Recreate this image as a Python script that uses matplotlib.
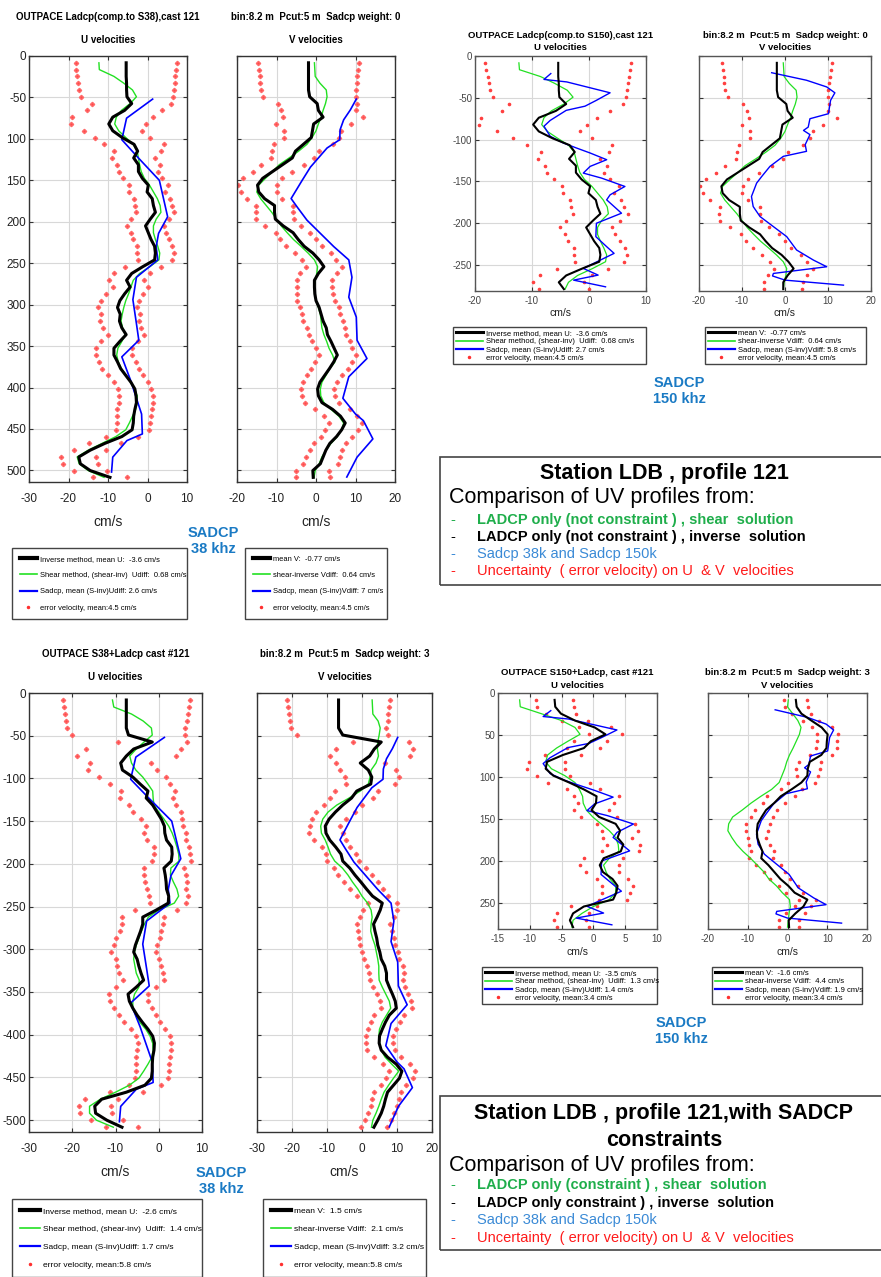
import numpy as np
import matplotlib
matplotlib.use('Agg')
import matplotlib.pyplot as plt
from matplotlib.patches import Rectangle
from matplotlib.lines import Line2D

# ---- data ----
BIN = 8.2
z38 = BIN * np.arange(1, 63)      # bin centres, 38 khz comparison (m)
z150 = z38[:34]                  # the 150 khz comparison shows 0-280 m

# LADCP only, not constrained (same solution in the two top pairs)
u_inv_top = [-5.4, -5.4, -5.4, -5.3, -5.3, -5.2, -4.0, -5.8, -8.8, -9.8,
             -8.8, -6.4, -3.4, -2.5, -3.5, -2.3, -2.3, -1.3, 0.2, -0.1,
             1.2, 1.5, 2.0, 0.7, -0.5, 0.2, 0.9, 1.8, 2.0, 1.8,
             -1.2, -4.0, -5.3, -4.4, -5.8, -7.0, -7.6, -6.9, -7.1, -6.5,
             -5.4, -7.0, -8.5, -8.5, -7.6, -6.8, -5.5, -4.2, -3.2, -2.9,
             -2.8, -3.2, -3.5, -3.6, -3.9, -6.5, -10.8, -14.5, -17.4, -17.0,
             -14.5, -9.5]
u_shear_top = [-12.3, -12.2, -8.5, -6.0, -3.8, -2.8, -4.4, -6.6, -7.9, -8.3,
               -7.3, -5.5, -3.6, -2.6, -2.3, -2.0, -1.6, -0.8, 0.5, 1.5,
               2.5, 3.2, 3.4, 2.2, 1.5, 1.5, 2.0, 2.6, 3.1, 2.9,
               0.6, -2.0, -3.6, -4.2, -4.8, -5.5, -6.0, -6.4, -6.7, -6.3,
               -5.6, -6.5, -7.5, -7.8, -7.4, -6.6, -5.4, -4.3, -3.3, -2.6,
               -2.6, -3.0, -3.8, -4.6, -5.5, -8.0, -11.5, -15.0, -17.8, -17.3,
               -15.0, -11.0]
v_inv_top = [-1.9, -1.9, -1.9, -1.9, -1.9, -1.6, 0.3, 0.6, 1.8, -0.6,
             -0.9, -1.2, -3.2, -5.2, -6.0, -8.5, -11.0, -13.5, -14.8, -14.5,
             -13.0, -10.5, -10.5, -10.3, -8.3, -5.8, -4.5, -3.0, -0.8, 0.8,
             2.0, 0.6, -0.4, -0.4, -0.3, 0.0, 0.8, 1.3, 1.8, 2.6,
             2.9, 3.8, 4.6, 5.4, 4.5, 3.4, 2.2, 1.0, 0.4, 0.6,
             1.5, 4.2, 6.2, 7.4, 6.5, 5.2, 3.5, 2.5, 1.8, 1.1,
             -0.8, -0.7]
v_shear_top = [-0.4, -0.3, -0.2, 1.0, 2.6, 2.8, 2.4, 1.8, 1.3, 0.6,
               0.0, -1.0, -2.3, -4.4, -6.8, -9.3, -11.0, -12.8, -14.5, -15.0,
               -14.0, -12.6, -11.2, -10.0, -8.8, -7.3, -5.7, -3.8, -2.0, -0.4,
               0.4, 0.2, -0.2, -0.4, -0.3, 0.0, 0.6, 1.1, 1.3, 1.5,
               2.0, 2.7, 3.3, 4.2, 4.8, 3.5, 2.5, 1.5, 1.1, 1.2,
               2.0, 3.8, 5.8, 7.0, 6.5, 5.4, 3.8, 2.5, 1.5, 0.8,
               -0.2, -0.5]
err_top = [12.8, 12.6, 12.4, 12.2, 12.0, 11.7, 10.0, 9.5, 10.2, 9.5,
           7.3, 7.0, 7.5, 6.0, 5.5, 5.5, 5.0, 4.9, 5.0, 4.5,
           4.5, 4.6, 4.8, 4.8, 4.6, 4.4, 4.6, 4.5, 4.6, 4.3,
           4.5, 4.6, 4.5, 4.4, 4.6, 4.8, 4.9, 4.9, 5.0, 4.8,
           4.6, 4.7, 4.6, 4.6, 4.7, 4.6, 4.4, 4.4, 4.2, 4.2,
           4.3, 4.4, 4.3, 4.2, 4.2, 4.0, 4.0, 4.1, 4.4, 4.5,
           4.2, 4.3]

# LADCP constrained by SADCP 38 khz
u_inv_b38 = [-7.5, -7.5, -7.5, -7.5, -7.5, -7.0, -1.5, -5.8, -7.5, -8.8,
             -8.4, -6.0, -4.3, -2.5, -2.9, -1.4, -0.4, 0.6, 1.3, 1.4,
             1.8, 3.0, 3.1, 2.9, 1.2, 1.5, 1.7, 1.8, 2.3, 2.2,
             -0.6, -3.7, -3.7, -4.2, -4.8, -5.4, -5.8, -5.0, -4.6, -4.1,
             -3.5, -5.2, -7.1, -6.8, -6.0, -5.0, -3.8, -2.5, -1.4, -1.0,
             -1.1, -1.4, -1.5, -1.5, -1.7, -3.2, -7.5, -13.2, -14.8, -14.6,
             -12.0, -8.5]
u_shear_b38 = [-10.7, -10.4, -6.3, -3.6, -1.7, -1.5, -3.4, -5.2, -6.7, -6.3,
               -5.3, -3.7, -2.5, -1.4, -1.3, -1.1, 0.0, 1.2, 2.3, 3.1,
               3.7, 4.2, 4.6, 4.7, 2.8, 2.7, 3.4, 4.2, 4.6, 3.6,
               0.0, -2.4, -3.3, -4.0, -4.6, -5.2, -5.6, -5.8, -5.5, -5.2,
               -4.5, -4.6, -5.6, -6.0, -6.0, -5.3, -4.4, -3.0, -2.0, -1.4,
               -1.3, -1.6, -2.5, -3.5, -4.6, -6.8, -10.0, -13.5, -16.0, -16.0,
               -14.4, -10.5]
v_inv_b38 = [-6.7, -6.7, -6.7, -6.7, -6.7, -5.5, 5.5, 3.5, 2.2, -0.5,
             1.8, 2.8, 2.5, -1.5, -3.0, -5.5, -7.6, -9.4, -10.5, -10.3,
             -9.2, -7.5, -6.0, -5.5, -3.5, -2.0, -0.3, 1.3, 3.0, 5.8,
             5.2, 4.3, 3.3, 3.7, 4.2, 4.5, 5.1, 5.5, 6.5, 7.0,
             7.0, 7.8, 8.7, 9.5, 9.8, 7.8, 6.7, 5.8, 5.0, 4.9,
             5.5, 7.3, 9.8, 11.4, 10.7, 9.0, 7.3, 6.7, 6.2, 5.5,
             4.5, 3.4]
v_shear_b38 = [2.9, 3.0, 3.1, 4.6, 5.2, 4.9, 4.5, 4.4, 4.7, 4.0,
               2.6, 2.3, 1.8, -0.5, -3.7, -7.2, -9.7, -11.2, -11.8, -11.6,
               -10.5, -9.7, -9.0, -7.8, -5.6, -4.0, -2.7, -1.2, 0.0, 1.6,
               2.6, 2.9, 2.6, 2.5, 3.0, 3.7, 4.1, 4.5, 4.8, 4.8,
               4.9, 5.8, 6.8, 7.8, 8.2, 7.0, 5.8, 5.0, 4.8, 5.0,
               5.5, 6.6, 8.5, 10.5, 9.0, 7.6, 6.3, 5.5, 4.8, 4.0,
               3.1, 2.7]
err_b38 = [14.7, 14.5, 14.2, 14.0, 13.6, 13.0, 8.0, 11.0, 11.4, 7.0,
           8.0, 7.7, 7.0, 6.2, 6.1, 5.5, 5.5, 4.8, 4.3, 4.8,
           4.6, 4.0, 4.2, 4.5, 4.6, 4.9, 4.8, 4.6, 4.5, 4.2,
           4.8, 4.8, 4.7, 4.8, 5.0, 5.0, 5.2, 5.0, 5.1, 5.0,
           4.8, 4.6, 4.5, 4.4, 4.4, 4.3, 4.2, 4.0, 3.9, 3.9,
           4.0, 3.9, 3.8, 3.8, 3.8, 3.7, 3.8, 3.8, 3.7, 3.7,
           3.7, 3.6]

# LADCP constrained by SADCP 150 khz
u_inv_b150 = [-6.1, -6.0, -5.1, -2.9, 0.2, 1.9, -0.4, -1.5, -4.8, -7.3,
              -7.5, -6.3, -3.8, -1.5, 0.5, 0.4, -0.3, 0.9, 3.5, 4.2,
              3.8, 4.7, 4.3, 1.6, 1.0, 1.5, 3.0, 3.8, 3.6, 3.1,
              -1.5, -3.2, -3.7, -3.2]
u_shear_b150 = [-11.6, -11.5, -8.2, -5.0, -2.9, -2.1, -4.0, -5.8, -7.2, -7.5,
                -6.6, -4.5, -2.9, -2.2, -1.7, -1.6, -1.1, -0.1, 1.2, 2.5,
                3.5, 3.9, 4.0, 2.5, 1.6, 2.0, 2.6, 3.5, 3.5, 2.5,
                0.0, -1.8, -3.2, -3.4]
v_inv_b150 = [2.1, 2.3, 3.5, 6.0, 8.6, 10.1, 9.9, 9.8, 8.5, 5.6,
              5.1, 5.0, 3.5, 1.0, -1.7, -3.4, -5.4, -6.5, -7.5, -7.7,
              -7.6, -7.0, -6.3, -6.6, -4.8, -3.3, -1.8, 0.2, 1.8, 5.0,
              4.0, 2.0, 0.3, 0.4]
v_shear_b150 = [0.2, 0.0, 1.3, 2.6, 3.4, 3.0, 2.2, 1.4, 0.5, -0.2,
                -0.7, -1.4, -2.1, -4.0, -6.7, -9.2, -11.4, -13.8, -14.8, -15.0,
                -14.0, -12.8, -11.2, -9.3, -7.6, -5.9, -4.7, -2.8, -1.3, 0.5,
                0.7, 0.4, 0.2, 0.0]
err_b150 = [2.9, 2.9, 2.3, 2.0, 2.5, 2.6, 2.6, 2.6, 2.8, 2.8,
            3.0, 2.6, 3.3, 2.6, 3.5, 2.8, 2.8, 2.8, 3.0, 2.8,
            2.3, 2.6, 2.9, 3.0, 3.1, 2.6, 2.5, 2.4, 2.2, 2.2,
            2.0, 2.5, 2.5, 2.5]

# ship ADCP profiles
z_s38u = [52, 75, 101, 122, 150, 194, 214, 230, 246, 267, 294, 323, 343, 363,
          391, 432, 456, 464, 484, 502]
u_s38 = [1.3, -5.3, -6.5, -2.5, 3.0, 5.1, 2.8, 2.2, 2.6, -2.8, -3.7, -2.8, -2.2,
         -6.5, -4.3, -1.5, -1.3, -5.2, -8.8, -9.1]
z_s38v = [52, 65, 77, 89, 101, 111, 134, 150, 172, 182, 198, 214, 230, 246, 267,
          291, 315, 343, 365, 387, 413, 432, 440, 462, 484, 508]
v_s38 = [10.2, 8.7, 7.0, 6.1, 6.0, 2.8, -1.4, -3.5, -6.3, -4.8, -2.3, 1.1, 4.5,
         8.3, 9.1, 8.3, 10.2, 10.4, 12.9, 8.3, 6.8, 10.0, 12.0, 14.4, 10.4, 7.8]
z_s150u = [21, 28, 31, 44, 53, 60, 65, 77, 84, 96, 104, 110, 116, 124, 132, 140,
           146, 156, 166, 172, 188, 200, 216, 228, 236, 248, 254, 262, 268, 276]
u_s150 = [-6.7, -7.9, -3.9, 3.7, 1.3, -0.7, -4.0, -6.8, -7.9, -6.8, -4.5, -2.2,
          0.2, 3.1, 0.2, -1.0, 2.2, 6.3, 3.7, 3.1, 5.7, 1.3, 1.2, 3.1, 4.4, 0.8,
          -1.0, 1.6, -2.7, 2.9]
z_s150v = [20, 29, 37, 44, 53, 69, 75, 85, 89, 94, 106, 114, 120, 132, 144, 152,
           168, 180, 192, 204, 216, 232, 244, 252, 260, 263, 268, 274]
v_s150 = [-3.1, 5.0, 9.7, 11.6, 10.6, 10.1, 5.8, 5.4, 4.3, 5.8, 4.7, 5.0, -0.4,
          -3.5, -5.4, -6.6, -7.8, -7.4, -5.8, -2.7, 0.4, 2.7, 6.6, 9.7, -2.7,
          -2.9, 0.0, 13.6]

# ---- layout ----
W, H = 881, 1277
ARIAL = ['Liberation Sans', 'DejaVu Sans']
GREEN = '#22e022'
SADCP_BLUE = '#1a7ac4'

fig = plt.figure(figsize=(W / 100, H / 100), dpi=100)


def frac(x0, y0, x1, y1):
    return [x0 / W, 1 - y1 / H, (x1 - x0) / W, (y1 - y0) / H]


def ftext(x, y, s, **kw):
    fig.text(x / W, 1 - y / H, s, **kw)


def panel(rect, z, inv, shear, err, zs, sadcp, xlim, xticks, depth, ylabels,
          titles, title_y, xlab_y, legend_box, labels, big, leg_fs=5.4):
    ax = fig.add_axes(frac(*rect))
    inv = np.asarray(inv)
    err = np.asarray(err)
    lw_k, lw_g, lw_b = (2.2, 1.0, 1.2) if big else (1.5, 0.9, 1.0)
    if big:
        mk = dict(marker='D', ms=2.2, color='#ff4a4a', mec='#ff6a6a')
    else:
        mk = dict(marker='.', ms=3.2, color='#ff4040')
    ax.plot(np.concatenate([inv - err, inv + err]), -np.concatenate([z, z]),
            ls='none', zorder=2, **mk)
    ax.plot(shear, -z, color=GREEN, lw=lw_g, zorder=3)
    ax.plot(sadcp, -np.asarray(zs), color='#0000ff', lw=lw_b, zorder=3)
    ax.plot(inv, -z, color='k', lw=lw_k, zorder=4)

    ax.set_xlim(*xlim)
    ax.set_ylim(-depth, 0)
    ax.set_xticks(xticks)
    ax.set_xticklabels([str(t) for t in xticks])
    yt = -np.arange(0, depth, 50)
    ax.set_yticks(yt)
    if ylabels is None:
        ax.set_yticklabels([])
    else:
        ax.set_yticklabels(ylabels)
    ax.grid(True, color='#d8d8d8', lw=0.8)
    ax.set_axisbelow(True)
    for s in ax.spines.values():
        s.set_color('#333333' if big else '#555555')
        s.set_linewidth(1.0)
    ax.tick_params(direction='in', top=True, right=True, length=3,
                   width=0.8, color='#333333',
                   labelcolor='#222222' if big else '#444444',
                   labelsize=8.5 if big else 7)
    ax.tick_params(axis='x', pad=8 if big else 3.5)
    ax.tick_params(axis='y', pad=2)
    for t in ax.get_xticklabels() + ax.get_yticklabels():
        t.set_family(ARIAL)

    cx = (rect[0] + rect[2]) / 2
    tsz = 7.0 if big else 6.8
    ftext(cx, title_y[0], titles[0], ha='center', va='center',
          family=ARIAL, weight='bold', fontsize=tsz)
    ftext(cx, title_y[1], titles[1], ha='center', va='center',
          family=ARIAL, weight='bold', fontsize=tsz)
    ftext(cx, xlab_y, 'cm/s', ha='center', va='center', family=ARIAL,
          fontsize=10 if big else 7.5, color='#222222')

    handles = [Line2D([], [], color='k', lw=3.0 if big else 2.2),
               Line2D([], [], color=GREEN, lw=1.2),
               Line2D([], [], color='#0000ff', lw=1.6),
               Line2D([], [], ls='none', marker='.', ms=3, color='#ff3030')]
    x0, y0, x1, y1 = legend_box
    fs = leg_fs if big else 5.5
    leg = ax.legend(handles, labels, loc='upper left', mode='expand',
                    bbox_to_anchor=(x0 / W, 1 - y1 / H, (x1 - x0) / W, (y1 - y0) / H),
                    bbox_transform=fig.transFigure, borderaxespad=0,
                    fancybox=False, edgecolor='#444444', framealpha=1,
                    prop=dict(family=ARIAL, size=fs),
                    labelspacing=1.2 if big else 0.12,
                    borderpad=1.0 if big else 0.35,
                    handlelength=2.3 if big else 3.6,
                    handletextpad=0.4 if big else 0.35)
    leg.get_frame().set_linewidth(1.0)
    return ax


lab_u = 'Inverse method, mean U:  {} cm/s'
lab_us = 'Shear method, (shear-inv)  Udiff:  {} cm/s'
lab_ub = 'Sadcp, mean (S-inv)Udiff: {} cm/s'
lab_v = 'mean V:  {} cm/s'
lab_vs = 'shear-inverse Vdiff:  {} cm/s'
lab_vb = 'Sadcp, mean (S-inv)Vdiff: {} cm/s'
lab_e = 'error velocity, mean:{} cm/s'

ylab38_top = ['0', '-50'] + [str(d) for d in range(100, 501, 50)]
ylab38_bot = ['0'] + ['-%d' % d for d in range(50, 501, 50)]
ylab150_top = ['0'] + ['-%d' % d for d in range(50, 251, 50)]
ylab150_bot = [str(d) for d in range(0, 251, 50)]

# top left: comparison to S38
panel((29, 56, 187, 482), z38, u_inv_top, u_shear_top, err_top, z_s38u, u_s38,
      (-30, 10), [-30, -20, -10, 0, 10], 514, ylab38_top,
      ('OUTPACE Ladcp(comp.to S38),cast 121', 'U velocities'), (17, 40), 522,
      (12, 548, 187, 626),
      [lab_u.format(-3.6), lab_us.format(0.68), lab_ub.format(2.6), lab_e.format(4.5)], True)
panel((237, 56, 395, 482), z38, v_inv_top, v_shear_top, err_top, z_s38v, v_s38,
      (-20, 20), [-20, -10, 0, 10, 20], 514, None,
      ('bin:8.2 m  Pcut:5 m  Sadcp weight: 0', 'V velocities'), (17, 40), 522,
      (245, 548, 387, 626),
      [lab_v.format(-0.77), lab_vs.format(0.64), lab_vb.format(7), lab_e.format(4.5)], True)

# top right: comparison to S150
panel((475, 56, 646, 291), z150, u_inv_top[:34], u_shear_top[:34], err_top[:34],
      z_s150u, u_s150, (-20, 10), [-20, -10, 0, 10], 281, ylab150_top,
      ('OUTPACE Ladcp(comp.to S150),cast 121', 'U velocities'), (35, 47), 313,
      (453, 327, 646, 370),
      [lab_u.format(-3.6), lab_us.format(0.68), lab_ub.format(2.7), lab_e.format(4.5)], False)
panel((699, 56, 871, 291), z150, v_inv_top[:34], v_shear_top[:34], err_top[:34],
      z_s150v, v_s150, (-20, 20), [-20, -10, 0, 10, 20], 281, None,
      ('bin:8.2 m  Pcut:5 m  Sadcp weight: 0', 'V velocities'), (35, 47), 313,
      (705, 327, 866, 370),
      [lab_v.format(-0.77), lab_vs.format(0.64), lab_vb.format(5.8), lab_e.format(4.5)], False)

# bottom left: S38 + LADCP
panel((29, 693, 202, 1132), z38, u_inv_b38, u_shear_b38, err_b38, z_s38u, u_s38,
      (-30, 10), [-30, -20, -10, 0, 10], 514, ylab38_bot,
      ('OUTPACE S38+Ladcp cast #121', 'U velocities'), (654, 677), 1172,
      (12, 1199, 202, 1287),
      [lab_u.format(-2.6), lab_us.format(1.4), lab_ub.format(1.7), lab_e.format(5.8)], True,
      leg_fs=6.0)
panel((257, 693, 432, 1132), z38, v_inv_b38, v_shear_b38, err_b38, z_s38v, v_s38,
      (-30, 20), [-30, -20, -10, 0, 10, 20], 514, None,
      ('bin:8.2 m  Pcut:5 m  Sadcp weight: 3', 'V velocities'), (654, 677), 1172,
      (263, 1199, 426, 1287),
      [lab_v.format(1.5), lab_vs.format(2.1), lab_vb.format(3.2), lab_e.format(5.8)], True,
      leg_fs=6.0)

# bottom right: S150 + LADCP
panel((498, 693, 657, 929), z150, u_inv_b150, u_shear_b150, err_b150, z_s150u, u_s150,
      (-15, 10), [-15, -10, -5, 0, 5, 10], 281, ylab150_bot,
      ('OUTPACE S150+Ladcp, cast #121', 'U velocities'), (673, 685), 952,
      (482, 967, 657, 1009),
      [lab_u.format(-3.5), lab_us.format(1.3), lab_ub.format(1.4), lab_e.format(3.4)], False)
panel((708, 693, 867, 929), z150, v_inv_b150, v_shear_b150, err_b150, z_s150v, v_s150,
      (-20, 20), [-20, -10, 0, 10, 20], 281, None,
      ('bin:8.2 m  Pcut:5 m  Sadcp weight: 3', 'V velocities'), (673, 685), 952,
      (712, 967, 862, 1009),
      [lab_v.format(-1.6), lab_vs.format(4.4), lab_vb.format(1.9), lab_e.format(3.4)], False)

# SADCP frequency labels
for x, y, s in [(213, 541, 'SADCP\n38 khz'), (679, 391, 'SADCP\n150 khz'),
                (221, 1181, 'SADCP\n38 khz'), (681, 1031, 'SADCP\n150 khz')]:
    ftext(x, y, s, ha='center', va='center', color=SADCP_BLUE, weight='bold',
          fontsize=10.5, family=ARIAL, linespacing=1.1)

# description boxes
bullet_colors = ['#1fae4b', 'k', '#3a8ad6', '#ff1a1a']
bullet_weights = ['bold', 'bold', 'normal', 'normal']
box_top = dict(rect=(440, 457, 884, 585),
               title=['Station LDB , profile 121'], title_y=[474], comp_y=498,
               rows=['LADCP only (not constraint ) , shear  solution',
                     'LADCP only (not constraint ) , inverse  solution',
                     'Sadcp 38k and Sadcp 150k',
                     'Uncertainty  ( error velocity) on U  & V  velocities'],
               rows_y=[520, 537, 554, 571])
box_bot = dict(rect=(440, 1096, 884, 1250),
               title=['Station LDB , profile 121,with SADCP', 'constraints'],
               title_y=[1113, 1140], comp_y=1165,
               rows=['LADCP only (constraint ) , shear  solution',
                     'LADCP only constraint ) , inverse  solution',
                     'Sadcp 38k and Sadcp 150k',
                     'Uncertainty  ( error velocity) on U  & V  velocities'],
               rows_y=[1185, 1203, 1220, 1238])
for box in [box_top, box_bot]:
    x0, y0, x1, y1 = box['rect']
    fig.add_artist(Rectangle((x0 / W, 1 - y1 / H), (x1 - x0) / W, (y1 - y0) / H,
                             transform=fig.transFigure, fill=False,
                             edgecolor='#444444', lw=1.2))
    for s, y in zip(box['title'], box['title_y']):
        ftext(664, y, s, ha='center', va='center', weight='bold',
              fontsize=15.5, family=ARIAL)
    ftext(449, box['comp_y'], 'Comparison of UV profiles from:', ha='left',
          va='center', fontsize=15.5, family=ARIAL)
    for s, y, c, w in zip(box['rows'], box['rows_y'], bullet_colors, bullet_weights):
        ftext(450, y, '-', ha='left', va='center', color=c, fontsize=10.5, family=ARIAL)
        ftext(477, y, s, ha='left', va='center', color=c, weight=w,
              fontsize=10.5, family=ARIAL)

fig.savefig('out.png', dpi=100)
